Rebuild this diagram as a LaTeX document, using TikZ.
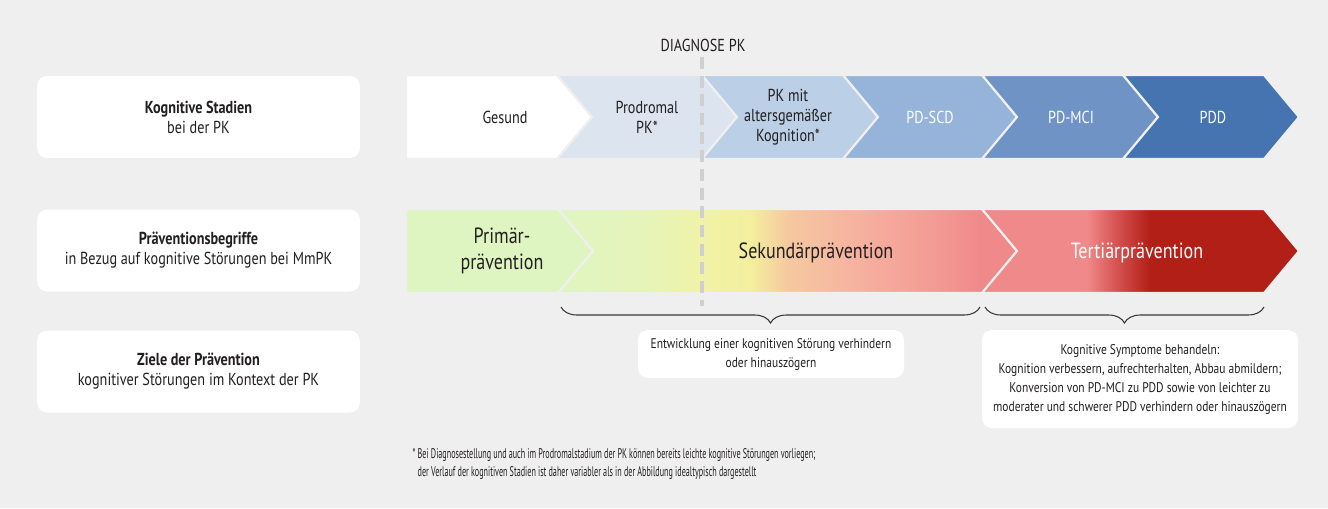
\documentclass[tikz,border=0pt]{standalone}
\usepackage{fontspec}
\setmainfont{PT Sans}[FakeStretch=0.82]
\newfontfamily\notefont{PT Sans}[FakeStretch=0.58]
\usetikzlibrary{calc,decorations.pathreplacing}
\definecolor{bgGray}{HTML}{EFEFEF}
\definecolor{textDark}{HTML}{231F20}
\definecolor{stageB}{HTML}{DCE4F0}
\definecolor{stageC}{HTML}{BBCFE7}
\definecolor{stageD}{HTML}{96B4D9}
\definecolor{stageE}{HTML}{7093C6}
\definecolor{stageF}{HTML}{4574B1}
\definecolor{primGreen}{HTML}{DFF5C1}
\definecolor{sekA}{HTML}{E0F5C1}
\definecolor{sekB}{HTML}{E5F4BA}
\definecolor{sekC}{HTML}{F0F3A8}
\definecolor{sekD}{HTML}{F3EF9E}
\definecolor{sekE}{HTML}{F5C9A0}
\definecolor{sekF}{HTML}{F6B3A0}
\definecolor{sekG}{HTML}{F39C95}
\definecolor{pinkRed}{HTML}{F08A8A}
\definecolor{midRed}{HTML}{D04A48}
\definecolor{darkRed}{HTML}{B21F16}
\definecolor{diagGray}{HTML}{CFCFCF}
\pgfdeclarehorizontalshading{sekShade}{100bp}{color(0bp)=(sekA); color(25bp)=(sekA);
  color(34bp)=(sekB); color(40.5bp)=(sekC); color(46bp)=(sekD); color(50bp)=(sekE);
  color(57bp)=(sekF); color(65.5bp)=(sekG); color(71bp)=(pinkRed); color(100bp)=(pinkRed)}
\pgfdeclarehorizontalshading{terShade}{100bp}{color(0bp)=(pinkRed); color(25bp)=(pinkRed);
  color(41.5bp)=(pinkRed); color(47bp)=(midRed); color(51.5bp)=(darkRed); color(100bp)=(darkRed)}

\begin{document}
\begin{tikzpicture}[x=0.75pt, y=-0.75pt,
    every node/.style={font=\fontsize{13pt}{15pt}\selectfont, text=textDark, align=center},
    rowbox/.style={fill=white, rounded corners=7.5pt, minimum width=242pt, minimum height=61.5pt},
    zielbox/.style={fill=white, rounded corners=7.5pt, font=\fontsize{10.5pt}{14.25pt}\selectfont},
    sep/.style={draw=bgGray, line width=1.6pt},
    prevtext/.style={font=\fontsize{16.5pt}{20pt}\selectfont},
    brace/.style={draw=black!78, line width=0.8pt, decorate, decoration={brace, amplitude=12pt, mirror}}]
        \useasboundingbox (0,0) rectangle (1328,508);
        \fill[bgGray] (0,0) rectangle (1328,508);

        % Row labels (left)
        \node[rowbox] (stadien) at (198.5,117)
            {\textbf{Kognitive Stadien}\\bei der PK};
        \node[rowbox] (begriffe) at (198.5,250.5)
            {\textbf{Präventionsbegriffe}\\in Bezug auf kognitive Störungen bei MmPK};
        \node[rowbox] (ziele) at (198.5,371.5)
            {\textbf{Ziele der Prävention}\\kognitiver Störungen im Kontext der PK};

        % Cognitive stages (top row)
        \fill[white, sep] (406,75) -- (557,75) -- ++(35,42) -- ++(-35,42) -- (406,159) -- cycle;
        \foreach \lft/\rgt/\col in {557/702/stageB, 702/843/stageC, 843/982/stageD, 982/1123/stageE, 1123/1264/stageF}
            \fill[\col, sep] (\lft,75) -- (\rgt,75) -- ++(35,42) -- ++(-35,42) -- (\lft,159) -- ++(35,-42) -- cycle;
        \node (gesund) at (505,117) {Gesund};
        \node (prodromal) at (647,117) {Prodromal\\PK*};
        \node (pkmit) at (788,117) {PK mit\\altersgemäßer\\Kognition*};
        \node[text=white] (pdscd) at (930,117) {PD-SCD};
        \node[text=white] (pdmci) at (1071,117) {PD-MCI};
        \node[text=white] (pdd) at (1213,117) {PDD};

        % Prevention terms (middle row)
        \shadedraw[shading=sekShade, sep] (558,209) -- (982,209) -- ++(35,42) -- ++(-35,42) -- (558,293) -- ++(35,-42) -- cycle;
        \shadedraw[shading=terShade, sep] (982,209) -- (1264,209) -- ++(35,42) -- ++(-35,42) -- (982,293) -- ++(35,-42) -- cycle;
        \fill[primGreen, sep] (406,209) -- (558,209) -- ++(35,42) -- ++(-35,42) -- (406,293) -- cycle;
        \node[prevtext] (primaer) at (502,251) {Primär-\\prävention};
        \node[prevtext] (sekundaer) at (816,253) {Sekundärprävention};
        \node[prevtext, text=white] (tertiaer) at (1137,253) {Tertiärprävention};

        % Diagnosis marker
        \node (diagnose) at (703,45) {DIAGNOSE PK};
        \coordinate (diagTop) at (702,57);
        \coordinate (diagEnd) at (702,306);
        \draw[diagGray, line width=3pt, dash pattern=on 9pt off 5pt] (diagTop) -- (diagEnd);

        % Goals (bottom row)
        \coordinate (sekL) at (561,307);
        \coordinate (sekR) at (980,307);
        \coordinate (terL) at (985,307);
        \coordinate (terR) at (1264,307);
        \draw[brace] (sekL) -- (sekR);
        \draw[brace] (terL) -- (terR);
        \node[zielbox, minimum width=199.5pt, minimum height=36pt] (ziel1) at (771,354)
            {Entwicklung einer kognitiven Störung verhindern\\oder hinauszögern};
        \node[zielbox, minimum width=237pt, minimum height=73.5pt] (ziel2) at (1140,379)
            {Kognitive Symptome behandeln:\\Kognition verbessern, aufrechterhalten, Abbau abmildern;\\Konversion von PD-MCI zu PDD sowie von leichter zu\\moderater und schwerer PDD verhindern oder hinauszögern};

        % Footnote
        \node[anchor=north west, align=left, font=\notefont\fontsize{10.5pt}{13.5pt}\selectfont] (fussnote) at (408,444)
            {* Bei Diagnosestellung und auch im Prodromalstadium der PK können bereits leichte kognitive Störungen vorliegen;\\
            \hphantom{*\ }der Verlauf der kognitiven Stadien ist daher variabler als in der Abbildung idealtypisch dargestellt};
\end{tikzpicture}
\end{document}
